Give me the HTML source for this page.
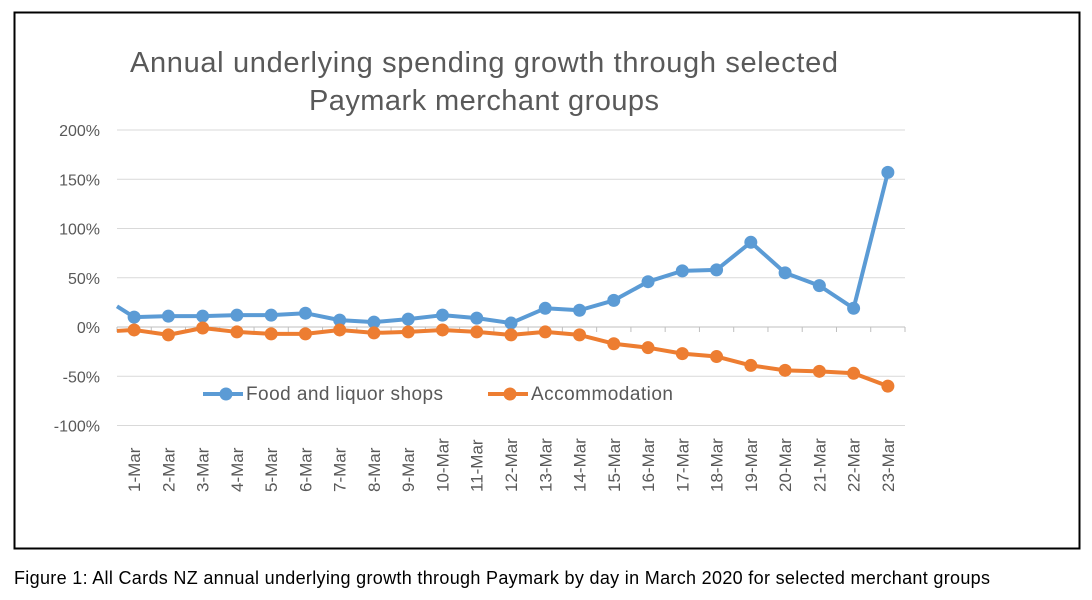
<!DOCTYPE html>
<html><head><meta charset="utf-8"><style>
body{margin:0;background:#fff;width:1092px;height:595px;overflow:hidden;font-family:"Liberation Sans",sans-serif}
</style></head><body>
<svg width="1092" height="595">
<rect x="14.5" y="12.5" width="1065" height="536" fill="#fff" stroke="#000" stroke-width="2"/>
<text x="484" y="72" text-anchor="middle" font-size="29" textLength="708" fill="#595959">Annual underlying spending growth through selected</text>
<text x="484" y="110" text-anchor="middle" font-size="29" textLength="350" fill="#595959">Paymark merchant groups</text>
<g id="grid"></g><g id="yl"></g><g id="xl"></g><g id="series"></g>
<g>
<line x1="203" y1="394" x2="243" y2="394" stroke="#5B9BD5" stroke-width="4"/><circle cx="226" cy="394" r="6.5" fill="#5B9BD5"/>
<text x="246" y="400" font-size="19" textLength="197" fill="#595959">Food and liquor shops</text>
<line x1="488" y1="394" x2="528" y2="394" stroke="#ED7D31" stroke-width="4"/><circle cx="510" cy="394" r="6.5" fill="#ED7D31"/>
<text x="531" y="400" font-size="19" textLength="142" fill="#595959">Accommodation</text>
</g>
<text x="14" y="584" font-size="18" textLength="976" fill="#000">Figure 1: All Cards NZ annual underlying growth through Paymark by day in March 2020 for selected merchant groups</text>
</svg>
<script>
const categories=["1-Mar","2-Mar","3-Mar","4-Mar","5-Mar","6-Mar","7-Mar","8-Mar","9-Mar","10-Mar","11-Mar","12-Mar","13-Mar","14-Mar","15-Mar","16-Mar","17-Mar","18-Mar","19-Mar","20-Mar","21-Mar","22-Mar","23-Mar"];
const food=[10,11,11,12,12,14,7,5,8,12,9,4,19,17,27,46,57,58,86,55,42,19,157];
const accommodation=[-3,-8,-1,-5,-7,-7,-3,-6,-5,-3,-5,-8,-5,-8,-17,-21,-27,-30,-39,-44,-45,-47,-60];
const foodPrev=21, accPrev=-4;
const yTicks=[200,150,100,50,0,-50,-100];
const NS="http://www.w3.org/2000/svg";
const L=117,R=905,step=(R-L)/categories.length;
const x=i=>L+step*(i+0.5);
const y=v=>327-v*0.985;
function mk(t,a,p){const e=document.createElementNS(NS,t);for(const k in a)e.setAttribute(k,a[k]);p.appendChild(e);return e;}
const grid=document.getElementById('grid'),yl=document.getElementById('yl'),xl=document.getElementById('xl'),ser=document.getElementById('series');
yTicks.forEach(v=>{
 const g=mk('line',{x1:L,x2:R,y1:y(v),y2:y(v),stroke:v===0?'#bfbfbf':'#d9d9d9','stroke-width':1},grid);
 
 
 const t=mk('text',{x:100,y:y(v)+6,'text-anchor':'end','font-size':16,fill:'#595959'},yl);
 t.textContent=v+'%';
 
 
});
for(let i=0;i<=categories.length;i++){
 const tk=mk('line',{x1:L+step*i,x2:L+step*i,y1:y(0),y2:y(0)+5,stroke:'#bfbfbf'},grid);
 
 
}
categories.forEach((c,i)=>{
 const t=mk('text',{transform:`translate(${x(i)+6},492) rotate(-90)`,'font-size':17,fill:'#595959'},xl);
 t.textContent=c;
 
 
});
function draw(vals,prev,col,name){
 const d=`M${L},${y(prev)} `+vals.map((v,i)=>`L${x(i)},${y(v)}`).join(' ');
 const p=mk('path',{d,fill:'none',stroke:col,'stroke-width':4,'stroke-linejoin':'round'},ser);
 
 
 vals.forEach((v,i)=>{
  const c=mk('circle',{cx:x(i),cy:y(v),r:6.5,fill:col},ser);
  
  
 });
}
draw(food,foodPrev,'#5B9BD5','food');
draw(accommodation,accPrev,'#ED7D31','accommodation');
</script>
</body></html>
